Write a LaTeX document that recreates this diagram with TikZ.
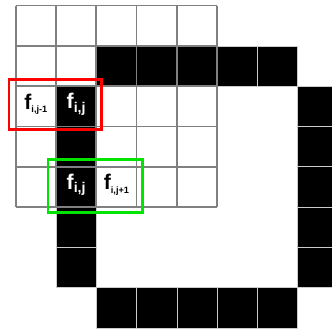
\documentclass[tikz,border=0pt]{standalone}
\usepackage{fontspec}
\setmainfont{Liberation Sans}
\usepackage{tikz}

\newcommand{\fsub}[2]{\bfseries\fontsize{15}{15}\selectfont f\raisebox{-2.5pt}{\fontsize{#1}{#1}\selectfont #2}}

\begin{document}
\begin{tikzpicture}[
  x=1cm, y=-1cm,
  gridline/.style={draw=gray, line width=1.2pt},
  blackcell/.style={fill=black, draw=gray!40, line width=0.5pt},
  lbl/.style={inner sep=0pt},
  redbox/.style={draw=red, line width=1.9pt},
  greenbox/.style={draw=green!90!black, line width=1.9pt},
]
\useasboundingbox (-0.39,-0.14) rectangle (7.85,8.02);

% black pixels of the shape
\foreach \c/\r in {2/1,3/1,4/1,5/1,6/1,
                   1/2,1/3,1/4,1/5,1/6,
                   7/2,7/3,7/4,7/5,7/6,
                   2/7,3/7,4/7,5/7,6/7}
  \draw[blackcell] (\c,\r) rectangle ++(1,1);

% 5x5 window
\foreach \i in {0,...,5} {
  \draw[gridline] (\i,0) -- (\i,5);
  \draw[gridline] (0,\i) -- (5,\i);
}

\node[lbl, text=black] (fl) at (0.5,2.45) {\fsub{6.5}{i,j-1}};
\node[lbl, text=white] (fc) at (1.5,2.45) {\fsub{10}{i,j}};
\node[lbl, text=white] (fd) at (1.5,4.45) {\fsub{10}{i,j}};
\node[lbl, text=black] (fr) at (2.5,4.45) {\fsub{6.5}{i,j+1}};

\draw[redbox] (-0.17,1.83) rectangle (2.13,3.08);
\draw[greenbox] (0.80,3.82) rectangle (3.15,5.13);
\end{tikzpicture}
\end{document}
